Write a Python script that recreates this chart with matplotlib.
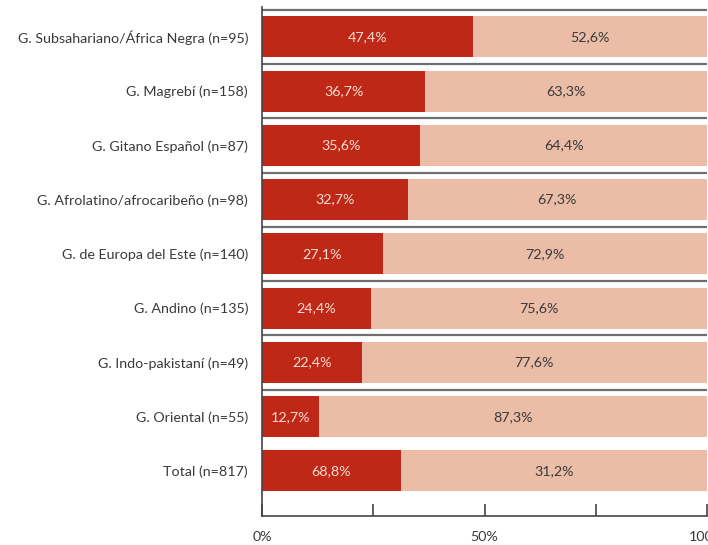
import matplotlib
matplotlib.use("Agg")
import matplotlib.pyplot as plt

categories = [
    "G. Subsahariano/África Negra (n=95)",
    "G. Magrebí (n=158)",
    "G. Gitano Español (n=87)",
    "G. Afrolatino/afrocaribeño (n=98)",
    "G. de Europa del Este (n=140)",
    "G. Andino (n=135)",
    "G. Indo-pakistaní (n=49)",
    "G. Oriental (n=55)",
    "Total (n=817)",
]
dark_values = [47.4, 36.7, 35.6, 32.7, 27.1, 24.4, 22.4, 12.7, 31.2]
light_values = [52.6, 63.3, 64.4, 67.3, 72.9, 75.6, 77.6, 87.3, 68.8]
dark_labels = ["47,4%", "36,7%", "35,6%", "32,7%", "27,1%", "24,4%", "22,4%", "12,7%", "68,8%"]
light_labels = ["52,6%", "63,3%", "64,4%", "67,3%", "72,9%", "75,6%", "77,6%", "87,3%", "31,2%"]
xticks = [0, 25, 50, 75, 100]
xticklabels = ["0%", "", "50%", "", "100%"]

DARK = "#BF2717"
LIGHT = "#EBBDA7"
FONT = ["Lato", "DejaVu Sans"]
plt.rcParams["font.family"] = FONT
FS = 10.3

fig = plt.figure(figsize=(7.08, 5.45), dpi=100)
ax = fig.add_axes([262 / 708, 1 - 516 / 545, (707 - 262) / 708, (516 - 7) / 545])

y = list(range(len(categories)))
h = 0.755
ax.barh(y, dark_values, height=h, color=DARK, edgecolor="none", zorder=2)
ax.barh(y, light_values, left=dark_values, height=h, color=LIGHT, edgecolor="none", zorder=2)

for i in y:
    ax.text(dark_values[i] / 2, i, dark_labels[i], ha="center", va="center",
            color="#F6DDD2", fontsize=FS, zorder=3)
    ax.text(dark_values[i] + light_values[i] / 2, i, light_labels[i], ha="center",
            va="center", color="#3a3a3a", fontsize=FS, zorder=3)

for b in range(len(categories) - 1):
    ax.axhline(b - 0.5, color="#6e6e6e", lw=1.6, zorder=1)

ax.set_xlim(0, 100)
ax.set_ylim(8.83, -0.55)
ax.set_yticks(y)
ax.set_yticklabels(categories, fontsize=FS, color="#3a3a3a")
ax.tick_params(axis="y", length=0, pad=10)
ax.set_xticks(xticks)
ax.set_xticklabels(xticklabels, fontsize=FS, color="#3a3a3a")
ax.tick_params(axis="x", direction="in", length=9, width=1.2, color="#444444", pad=14)

for s in ["top", "right"]:
    ax.spines[s].set_visible(False)
for s in ["left", "bottom"]:
    ax.spines[s].set_color("#444444")
    ax.spines[s].set_linewidth(1.2)

fig.canvas.draw()
# place x tick labels so their centre sits ~21 px below the axis
for lbl in ax.get_xticklabels():
    lbl.set_va("center")
ax.tick_params(axis="x", pad=15)

fig.savefig("out.png", dpi=100)
